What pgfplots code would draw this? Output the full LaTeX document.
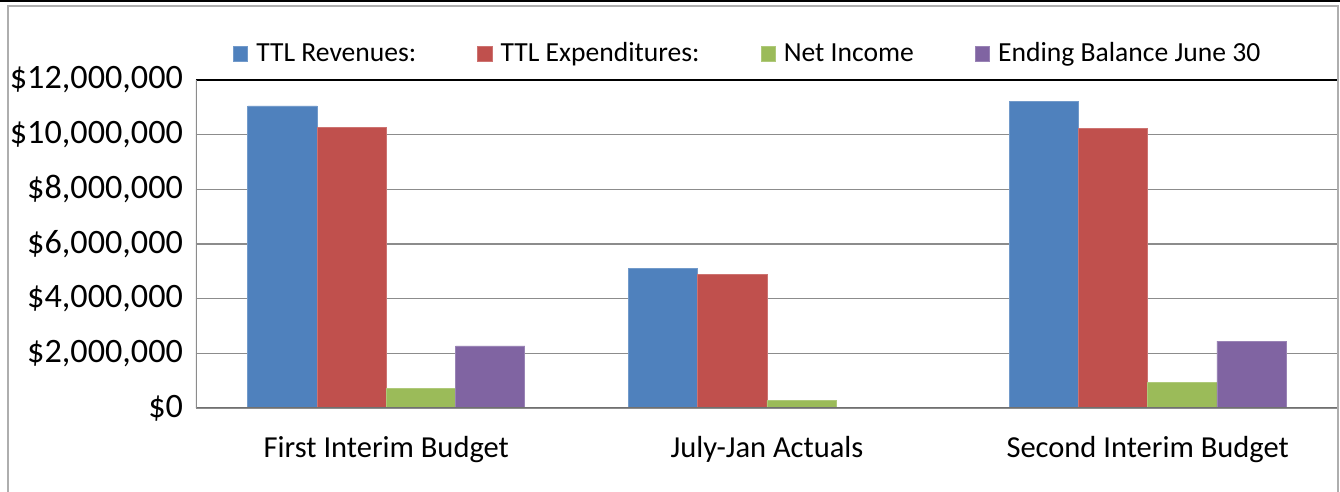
\documentclass[border=0pt]{standalone}
\usepackage{fontspec}
\setmainfont{Carlito}
\usepackage{pgfplots}
\pgfplotsset{compat=1.18}
\definecolor{cRev}{HTML}{4F81BD}
\definecolor{cExp}{HTML}{C0504D}
\definecolor{cNet}{HTML}{9BBB59}
\definecolor{cEnd}{HTML}{8064A2}
\definecolor{gridc}{HTML}{8C8C8C}
\begin{document}
\begin{tikzpicture}
\begin{axis}[
  scale only axis,
  width=571pt, height=164pt,
  at={(0,0)}, anchor=south west,
  ybar=0pt, bar width=0.182,
  xmin=-0.5, xmax=2.5,
  ymin=0, ymax=12000000,
  scaled y ticks=false,
  xtick={0,1,2},
  xticklabels={First Interim Budget, July-Jan Actuals, Second Interim Budget},
  ytick={0,2000000,4000000,6000000,8000000,10000000,12000000},
  yticklabels={\$0,{\$2,000,000},{\$4,000,000},{\$6,000,000},{\$8,000,000},{\$10,000,000},{\$12,000,000}},
  major tick length=0pt,
  ymajorgrids,
  grid style={gridc, line width=0.6pt},
  axis line style={draw=none},
  xticklabel style={font=\fontsize{15.25}{18}\selectfont, anchor=north, yshift=-10.5pt},
  yticklabel style={font=\fontsize{17.1}{20}\selectfont, anchor=east, xshift=-3pt},
  legend columns=4,
  legend style={draw=none, fill=none, at={(rel axis cs:0.484,1.08)}, anchor=center,
    font=\fontsize{13.8}{16}\selectfont,
    /tikz/every odd column/.append style={column sep=2pt},
    /tikz/every even column/.append style={column sep=28.5pt}},
  legend image code/.code={\fill[#1] (0pt,-3.7pt) rectangle (7.2pt,3.7pt);},
]
\addplot[fill=cRev, draw=cRev!80!white] coordinates {(0,11050000) (1,5120000) (2,11200000)};
\addplot[fill=cExp, draw=cExp!80!white] coordinates {(0,10280000) (1,4870000) (2,10240000)};
\addplot[fill=cNet, draw=cNet!80!white] coordinates {(0,730000) (1,260000) (2,950000)};
\addplot[fill=cEnd, draw=cEnd!80!white] coordinates {(0,2270000) (1,0) (2,2450000)};
\legend{TTL Revenues:, TTL Expenditures:, Net Income, Ending Balance June 30}
\draw[black, line width=1.3pt] (rel axis cs:0,1) -- (rel axis cs:1,1);
\draw[gridc!80!black, line width=0.9pt] (rel axis cs:0,0) -- (rel axis cs:1,0);
\draw[gridc, line width=0.9pt] (rel axis cs:0,0) -- (rel axis cs:0,1);
\end{axis}
\draw[gridc!70!white, line width=0.8pt] (-94pt,-42pt) -- (-94pt,201pt) -- (571pt,201pt) -- (571pt,-42pt);
\draw[black, line width=1pt] (-98pt,203.5pt) -- (572pt,203.5pt);
\pgfresetboundingbox
\path[use as bounding box] (-98pt,-42pt) rectangle (572pt,204pt);
\end{tikzpicture}
\end{document}
